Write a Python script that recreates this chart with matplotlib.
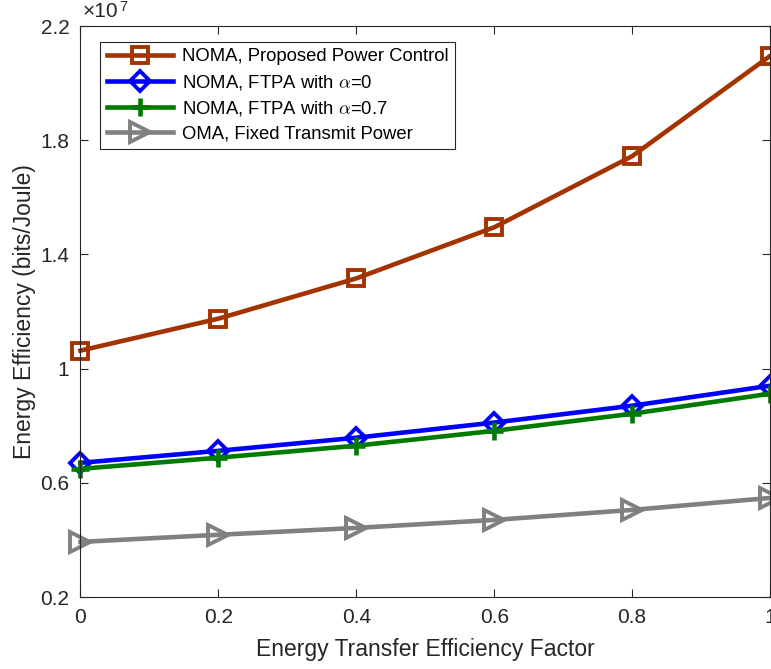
import matplotlib
matplotlib.use("Agg")
import matplotlib.pyplot as plt

plt.rcParams['font.family'] = ['Liberation Sans', 'DejaVu Sans']
plt.rcParams['mathtext.fontset'] = 'cm'

# data
eta = [0, 0.2, 0.4, 0.6, 0.8, 1.0]
noma_proposed = [1.063e7, 1.175e7, 1.316e7, 1.495e7, 1.744e7, 2.095e7]
noma_ftpa_0 = [0.670e7, 0.712e7, 0.758e7, 0.811e7, 0.870e7, 0.940e7]
noma_ftpa_07 = [0.649e7, 0.688e7, 0.730e7, 0.782e7, 0.842e7, 0.912e7]
oma_fixed = [0.393e7, 0.418e7, 0.442e7, 0.470e7, 0.505e7, 0.547e7]

labels = ["NOMA, Proposed Power Control",
          r"NOMA, FTPA with $\alpha$=0",
          r"NOMA, FTPA with $\alpha$=0.7",
          "OMA, Fixed Transmit Power"]

fig = plt.figure(figsize=(7.71, 6.69), dpi=100)
ax = fig.add_axes([0.1044, 0.1076, 0.8943, 0.8535])

lw = 3.3
ax.plot(eta, noma_proposed, color='#A33300', lw=lw, marker='s', ms=11,
        mfc='none', mew=2.8, label=labels[0], clip_on=False)
ax.plot(eta, noma_ftpa_0, color='#0000FF', lw=lw, marker='D', ms=10,
        mfc='none', mew=2.8, label=labels[1], clip_on=False)
ax.plot(eta, noma_ftpa_07, color='#007A00', lw=lw, marker='+', ms=13,
        mew=3.3, label=labels[2], clip_on=False)
ax.plot(eta, oma_fixed, color='#808080', lw=lw, marker='>', ms=14,
        mfc='none', mew=2.8, label=labels[3], clip_on=False)

ax.set_xlim(0, 1)
ax.set_ylim(0.2e7, 2.2e7)
ax.set_xticks([0, 0.2, 0.4, 0.6, 0.8, 1])
ax.set_xticklabels(["0", "0.2", "0.4", "0.6", "0.8", "1"])
yt = [0.2e7, 0.6e7, 1.0e7, 1.4e7, 1.8e7, 2.2e7]
ax.set_yticks(yt)
ax.set_yticklabels(["0.2", "0.6", "1", "1.4", "1.8", "2.2"])

# exponent label
ax.text(0.003, 1.008, "\u00d710", transform=ax.transAxes, fontsize=15,
        color='#262626', ha='left', va='bottom')
ax.text(0.056, 1.021, "7", transform=ax.transAxes, fontsize=10.5,
        color='#262626', ha='left', va='bottom')

ax.tick_params(direction='in', top=True, right=True, length=6,
               labelsize=15, colors='#262626', pad=8)
for s in ax.spines.values():
    s.set_color('#262626')
    s.set_linewidth(0.8)

ax.set_xlabel("Energy Transfer Efficiency Factor", fontsize=16.5,
              color='#262626', labelpad=8)
ax.set_ylabel("Energy Efficiency (bits/Joule)", fontsize=16.5,
              color='#262626', labelpad=3)

leg = ax.legend(loc='upper left', bbox_to_anchor=(0.029, 0.972), fontsize=13.3,
                fancybox=False, edgecolor='#262626', framealpha=1,
                handlelength=3.6, borderpad=0.35, labelspacing=0.4,
                handletextpad=0.45, borderaxespad=0)
leg.get_frame().set_linewidth(0.8)

fig.savefig("out.png", dpi=100)
